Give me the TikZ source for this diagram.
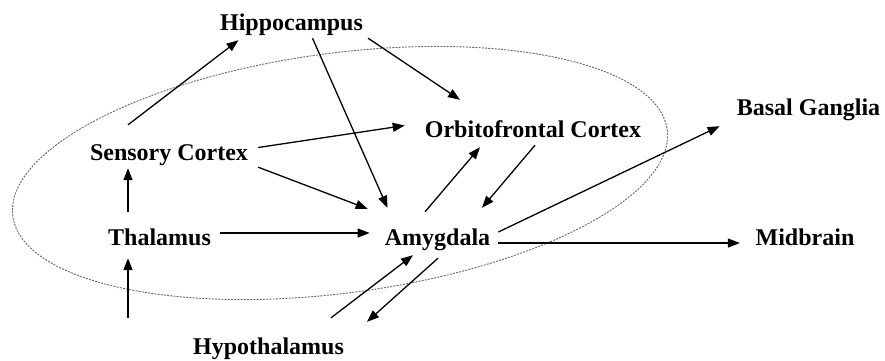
\documentclass[tikz,border=0pt]{standalone}
\usepackage{fontspec}
\setmainfont{Liberation Serif}
\usepackage{tikz}
\usetikzlibrary{arrows.meta, positioning, calc}

\begin{document}
\begin{tikzpicture}[x=1pt, y=-1pt,
					every node/.style={font=\bfseries\fontsize{24}{28}\selectfont,
						inner sep=4pt, text height=16pt, text depth=5pt, anchor=base},
					arr/.style={-{Triangle[length=12pt,width=9pt]}, line width=1.3pt},
					region/.style={black!60, line width=0.9pt, dash pattern=on 2pt off 1.2pt}]
				\useasboundingbox (0,0) rectangle (885,360);

				\node (hippo) at (291.5,30)  {Hippocampus};
				\node (sens)  at (169,160)   {Sensory Cortex};
				\node (ofc)   at (533,137)   {Orbitofrontal Cortex};
				\node (basal) at (808.5,115) {Basal Ganglia};
				\node (thal)  at (159.5,245) {Thalamus};
				\node (amyg)  at (437.5,245) {Amygdala};
				\node (mid)   at (805,245)   {Midbrain};
				\node (hypo)  at (268.5,354) {Hypothalamus};
				\coordinate (in) at (128,318);

				% limbic region
				\draw[region, rotate around={7.5:(340,173)}] (340,173) ellipse [x radius=330, y radius=120];

				\foreach \from/\fx/\fy/\to/\tx/\ty in {sens.north/-41/-15/hippo.south/-53/1,
						hippo.south/21/-1/amyg.north/-50/-17,
						hippo.south east/1/-1/ofc.north/-73/-17,
						sens.east/6/-7/ofc.west/-16/-6,
						sens.south east/6/-2/amyg.north west/-13/-16,
						thal.north/-31.5/-13/sens.south/-41/-1,
						thal.east/5/-6.5/amyg.west/-11/-6.5,
						in/0/0/thal.south/-31.5/4,
						amyg.north/-12.5/-13/ofc.south/-53/1,
						ofc.south/2/-1/amyg.north/44.5/-17,
						amyg.east/4/-7.5/basal.south west/-13/2,
						amyg.east/4/3.5/mid.west/-11.6/3.5,
						hypo.north/62.5/-16/amyg.south/-24.5/1,
						amyg.south/0.5/4/hypo.north/98.5/-12}
					\draw[arr] ([shift={(\fx,\fy)}]\from) -- ([shift={(\tx,\ty)}]\to);
			\end{tikzpicture}
\end{document}
